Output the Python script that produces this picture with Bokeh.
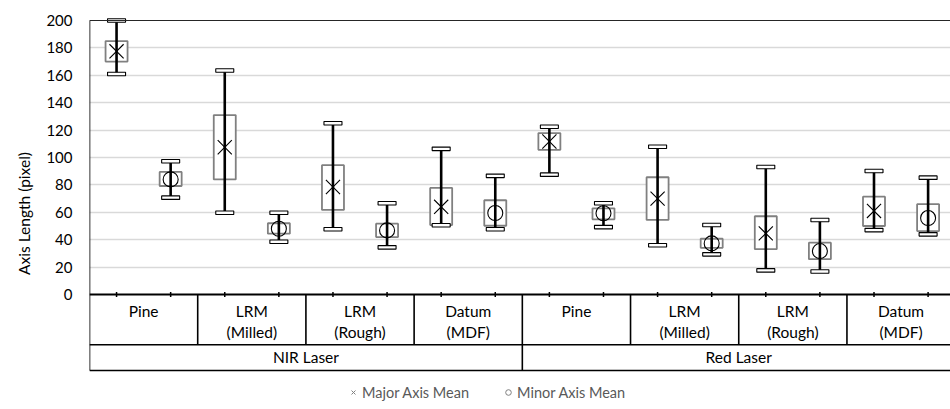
from bokeh.plotting import figure
from bokeh.models import (Range1d, FixedTicker, Span, ColumnDataSource, Legend, LegendItem)
from bokeh.core.properties import value
from bokeh.embed import file_html
from bokeh.resources import INLINE

# ---------------- data ----------------
materials = ["Pine", "LRM\n(Milled)", "LRM\n(Rough)", "Datum\n(MDF)",
             "Pine", "LRM\n(Milled)", "LRM\n(Rough)", "Datum\n(MDF)"]
lasers = ["NIR Laser", "Red Laser"]

major_lo   = [161.0, 59.7, 47.6, 50.5, 87.5, 36.0, 17.6, 47.0]
major_q1   = [170.0, 84.0, 61.7, 50.7, 105.6, 54.4, 33.1, 50.0]
major_mean = [177.5, 107.5, 78.5, 64.0, 111.7, 70.0, 44.6, 61.0]
major_q3   = [185.0, 131.0, 94.4, 77.8, 117.8, 85.6, 57.1, 71.4]
major_hi   = [200.0, 163.5, 125.0, 106.3, 122.4, 107.8, 93.1, 90.2]

minor_lo   = [70.7, 38.5, 34.4, 47.6, 49.2, 29.3, 16.8, 43.9]
minor_q1   = [79.2, 44.4, 41.9, 50.2, 54.9, 34.1, 25.8, 46.3]
minor_mean = [84.0, 48.0, 46.8, 59.5, 59.3, 37.3, 31.7, 55.8]
minor_q3   = [89.5, 52.0, 51.7, 68.8, 62.9, 40.7, 37.8, 65.9]
minor_hi   = [97.3, 59.7, 66.6, 86.6, 66.6, 50.7, 54.4, 85.3]

y_ticks = [0, 20, 40, 60, 80, 100, 120, 140, 160, 180, 200]

# ---------------- layout constants ----------------
FONT = "Lato"
W, H = 950, 409
BORDER_L, BORDER_T = 89, 17
K = 274 / 200.0           # pixels per data unit on y
n = len(materials)
x_end = 7.957
frame_h = H - BORDER_T
y_end = 200 + 3 / K
y_start = y_end - frame_h / K

def px(d):
    return d / K

row1_bot = -px(50.3)
row2_bot = -px(76)

p = figure(width=W, height=H, output_backend="svg", toolbar_location=None,
           x_range=Range1d(0, x_end), y_range=Range1d(y_start, y_end),
           min_border_left=BORDER_L, min_border_top=BORDER_T,
           min_border_right=0, min_border_bottom=0,
           x_axis_location=None)
p.outline_line_color = None
p.background_fill_color = "white"
p.border_fill_color = "white"

# y axis
p.yaxis.ticker = FixedTicker(ticks=y_ticks)
p.yaxis.axis_line_color = None
p.yaxis.major_tick_line_color = None
p.yaxis.minor_tick_line_color = None
p.yaxis.major_tick_out = 0
p.yaxis.major_tick_in = 0
p.yaxis.major_label_standoff = 17
p.yaxis.major_label_text_font = FONT
p.yaxis.major_label_text_font_size = "15px"
p.yaxis.major_label_text_color = "#000000"
p.yaxis.axis_label = "Axis Length (pixel)"
p.yaxis.axis_label_text_font = FONT
p.yaxis.axis_label_text_font_size = "15.5px"
p.yaxis.axis_label_text_font_style = "normal"
p.yaxis.axis_label_text_color = "#000000"
p.yaxis.axis_label_standoff = 10

p.xgrid.visible = False
p.ygrid.ticker = FixedTicker(ticks=[t for t in y_ticks if 0 < t < 200])
p.ygrid.grid_line_color = "#d9d9d9"
p.ygrid.grid_line_width = 1.5

# frame / table lines
p.add_layout(Span(location=200, dimension="width", line_color="#262626", line_width=1.2))
p.add_layout(Span(location=0, dimension="width", line_color="#000000", line_width=2))
p.add_layout(Span(location=row1_bot, dimension="width", line_color="#000000", line_width=1.6))
p.add_layout(Span(location=row2_bot, dimension="width", line_color="#000000", line_width=1.6))
# left border
p.segment(x0=[0], y0=[200], x1=[0], y1=[row2_bot], line_color="#000000", line_width=1.6)
# category dividers
div_x = [i for i in range(1, n)]
div_y1 = [row2_bot if i == n // 2 else row1_bot for i in div_x]
p.segment(x0=div_x, y0=[0] * len(div_x), x1=div_x, y1=div_y1,
          line_color="#000000", line_width=1.6)
# point ticks
tick_x = [i + f for i in range(n) for f in (0.25, 0.75)]
p.segment(x0=tick_x, y0=[px(2.5)] * len(tick_x), x1=tick_x, y1=[-px(2.5)] * len(tick_x),
          line_color="#000000", line_width=1.5)

# category labels
line1 = [m.split("\n")[0] for m in materials]
line2 = [m.split("\n")[1] if "\n" in m else "" for m in materials]
cx = [i + 0.5 for i in range(n)]
CAT_FS = "15.5px"
p.text(x=cx, y=[-px(16)] * n, text=line1, text_font=value(FONT), text_font_size=CAT_FS,
       text_align="center", text_baseline="middle", text_color="#000000")
p.text(x=cx, y=[-px(37)] * n, text=line2, text_font=value(FONT), text_font_size=CAT_FS,
       text_align="center", text_baseline="middle", text_color="#000000")
p.text(x=[2, 6], y=[-px(62)] * 2, text=lasers, text_font=value(FONT), text_font_size=CAT_FS,
       text_align="center", text_baseline="middle", text_color="#000000")

# ---------------- boxes ----------------
def draw_series(offset, lo, q1, mean, q3, hi, marker, msize):
    xs = [i + offset for i in range(n)]
    src = ColumnDataSource(dict(x=xs, lo=lo, q1=q1, mean=mean, q3=q3, hi=hi))
    p.vbar(x="x", bottom="q1", top="q3", width=22 / 108.2, source=src,
           fill_color="white", line_color="#808080", line_width=1.8)
    p.segment(x0="x", y0="lo", x1="x", y1="hi", source=src,
              line_color="#000000", line_width=2.6)
    for col in ("lo", "hi"):
        p.rect(x="x", y=col, width=18, height=3.5, width_units="screen",
               height_units="screen", source=src, fill_color="white",
               line_color="#000000", line_width=1.1)
    return p.scatter(x="x", y="mean", marker=marker, size=msize, source=src,
                     fill_color=None, line_color="#000000", line_width=1.1)

draw_series(0.25, major_lo, major_q1, major_mean, major_q3, major_hi, "x", 20)
draw_series(0.75, minor_lo, minor_q1, minor_mean, minor_q3, minor_hi, "circle", 15)

# legend (gray proxy renderers placed outside the visible range)
proxy = ColumnDataSource(dict(x=[-100], y=[-1000]))
lx = p.scatter(x="x", y="y", marker="x", size=8, source=proxy,
               fill_color=None, line_color="#808080", line_width=1)
lc = p.scatter(x="x", y="y", marker="circle", size=8, source=proxy,
               fill_color=None, line_color="#808080", line_width=1)
legend = Legend(items=[LegendItem(label="Major Axis Mean", renderers=[lx], index=0),
                       LegendItem(label="Minor Axis Mean", renderers=[lc], index=0)],
                orientation="horizontal", location=(257, 7),
                label_text_font=FONT, label_text_font_size="14.5px",
                label_text_color="#595959", glyph_width=14, glyph_height=20,
                label_standoff=2, spacing=32, padding=0, margin=0,
                border_line_color=None, background_fill_alpha=0)
p.add_layout(legend)

open("out.html", "w").write(file_html(p, INLINE))
